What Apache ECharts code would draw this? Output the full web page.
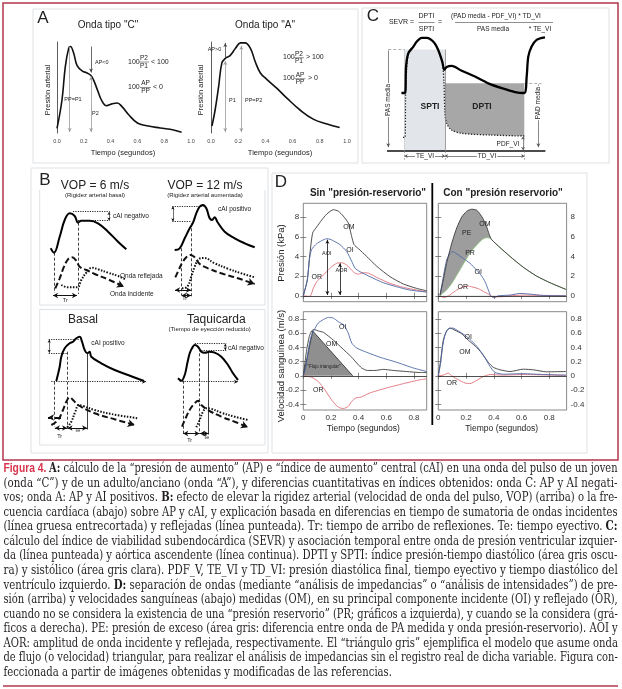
<!DOCTYPE html>
<html lang="es"><head><meta charset="utf-8"><title>Figura 4</title>
<script src="https://cdn.jsdelivr.net/npm/echarts@6.0.0/dist/echarts.min.js"></script>
<style>html,body{margin:0;padding:0;background:#fff;}#c{width:622px;height:689px;}</style>
</head><body><div id="c"></div>
<script>
// ================= DATA =================
// ---- Panel A ----
const aTimeTicks = [0, 0.2, 0.4, 0.6, 0.8, 1.0];
const ondaC_t = [0.0,0.037,0.062,0.087,0.10,0.124,0.15,0.19,0.224,0.26,0.30,0.336,0.37,0.41,0.45,0.485,0.535,0.6,0.67,0.77,0.87,0.93];
const ondaC_p = [5,36,73,93,95,88,74,68,66,62,48,35,30,32,33,29,20,11,8,5.5,3.3,0.8];
const ondaA_t = [0.007,0.03,0.056,0.08,0.105,0.14,0.18,0.216,0.25,0.29,0.326,0.363,0.41,0.485,0.56,0.657,0.755,0.853,0.946];
const ondaA_p = [7.7,25,51,77,82,85,93,99,99,93,78,66,59,49,38,25,15,10,6];

// ---- Panel C ----
const aorta_t = [0.09,0.1125,0.119,0.133,0.165,0.185,0.217,0.248,0.29,0.32,0.346,0.358,0.373,0.404,0.467,0.55,0.633,0.717,0.8,0.858,0.873,0.883,0.904,0.935,0.9875];
const aorta_p = [60,60,87,101,108,113,117,117,113,104.5,92,84,87,88,83,77,70,65,61,60,77,97.6,108,115,117.6];
const vi_t = [0.1,0.112,0.117,0.133,0.165,0.185,0.217,0.248,0.29,0.32,0.346,0.356,0.362,0.373,0.404,0.467,0.65,0.858];
const vi_p = [14,14,62,101,108,113,117,117,113,104.5,92,70,40,28.6,21.7,18.3,16.5,15.5];
const pasMedia = 105, padMedia = 70, pdfVI = 15;
const teVI = [0.11, 0.362], tdVI = [0.362, 0.858];

// ---- Panel B ----
const b1_main_x = [5.7,9,14.7,19.7,24.7,29.7,33,36.3,44.7,53,63,73,81.3];
const b1_main_y = [56.7,52.3,68.3,85,91.7,89,82.3,84.3,84.3,81.7,73.3,63.3,55.7];
const b1_inc_x = [10.3,14.7,19,23,27,31.3,34.7,41.3,49.7,63,79];
const b1_inc_y = [16.7,26.7,38.3,45.7,47.7,44.3,38.3,35,31,25.7,18.3];
const b1_ref_x = [16.3,23,32.3,36.3,41.3,47,53,63,73,80.3];
const b1_ref_y = [20,17.7,17.7,25,32.3,37.3,35.7,32.3,29,25.7];

const b2_main_x = [9.7,14.7,19.7,24.7,28,31.3,34.7,38,41.3,44.7,47,49.7,52.3,59.7,69.7,79.7,89.7];
const b2_main_y = [55,56.7,66.7,76.7,82.3,91.7,98.3,100,96.7,86.7,85,87.7,83.3,73.3,66.7,61.7,57.7];
const b2_inc_x = [10.3,13.7,17,21.3,25.7,29.7,34.7,43,56.3,73,89.7];
const b2_inc_y = [27.7,35,41.7,47.7,50,47.7,41,36.7,31.7,26.7,21];
const b2_ref_x = [17,22.3,26.3,29.7,33.7,39,49.7,63,76.3,89.7];
const b2_ref_y = [16.7,18.3,28.3,38.3,45.7,47,41.7,36.3,31.7,27.7];

const b3_main_x = [11.3,14.7,16.3,19.7,24.7,28,31.3,34.7,37,39.7,42.3,44.7,46.3,56.3,69.7,83,99];
const b3_main_y = [54,68.3,78.3,86.7,91.7,93.3,96.7,98.3,93.3,85,81.7,83.3,78.3,71.7,65,60,54];
const b3_inc_x = [6.3,13,18,21.3,24.7,28,33,49.7,69.7,89.7];
const b3_inc_y = [10,15,25,33.3,37.7,35,30,21.7,15.7,10];
const b3_ref_x = [22.3,26.3,30.3,33.7,38,49.7,66.3,93];
const b3_ref_y = [7.7,13.3,23.3,30,29,25,21,16.7];

const b4_main_x = [13,16.3,19.7,22.3,24.7,27,29.7,33,36.3,39.7,44.7,49.7,56.3,63,68,73];
const b4_main_y = [56.7,54.3,60,71.7,81.7,86.7,90,88.3,83.3,82.3,83.3,82.3,78.3,70,61.7,55];
const b4_inc_x = [17,21.3,25.7,29.7,33,36.3,43,56.3,69.7,83];
const b4_inc_y = [8.3,18.3,26.7,31.7,34.3,30,25,18.3,13.3,7.7];
const b4_ref_x = [31.3,34.7,38,41.3,45.7,56.3,69.7,83];
const b4_ref_y = [7.7,15,23.3,26.7,26.3,22.3,18.3,15];

// ---- Panel D ----
const dTimeTicks = [0, 0.2, 0.4, 0.6, 0.8];
const dPresTicks = [0, 2, 4, 6, 8];
const dVelTicks = [-0.4, -0.2, 0, 0.2, 0.4, 0.6, 0.8];
// sin presión-reservorio (presión)
const om1_t = [0,0.029,0.048,0.068,0.097,0.133,0.169,0.217,0.253,0.289,0.325,0.35,0.367,0.398,0.458,0.531,0.627,0.723,0.82,0.892];
const om1_p = [0,1.6,4.3,6.4,7.0,7.7,8.3,8.75,8.6,8.1,7.4,6.0,5.2,4.8,4.0,3.0,1.94,1.2,0.75,0.51];
const oi1_t = [0,0.029,0.044,0.06,0.097,0.133,0.169,0.193,0.229,0.265,0.314,0.35,0.374,0.41,0.482,0.578,0.675,0.771,0.892];
const oi1_p = [0,1.6,3.7,4.7,5.3,5.6,5.8,5.75,5.5,5.2,4.5,3.5,2.8,2.45,1.94,1.33,0.92,0.58,0.38];
const or1_t = [0,0.036,0.053,0.072,0.097,0.133,0.157,0.18,0.205,0.241,0.277,0.314,0.35,0.374,0.398,0.434,0.47,0.531,0.627,0.723,0.82,0.892];
const or1_p = [0,-0.05,0,0.75,1.43,1.94,2.3,2.6,2.96,3.3,3.37,3.13,2.6,2.3,2.2,2.35,2.3,1.87,1.26,0.86,0.58,0.41];
// con presión reservorio (presión)
const om2_t = [0.012,0.036,0.06,0.097,0.133,0.169,0.205,0.24,0.277,0.313,0.344,0.368,0.385,0.445,0.517,0.613,0.709,0.805,0.92];
const om2_p = [0.07,1.6,3.3,5.35,6.9,8.0,8.6,8.8,8.7,8.06,7.2,6.2,5.7,4.9,4.0,2.9,2.0,1.33,0.65];
const pr2_t = [0.012,0.036,0.06,0.097,0.133,0.169,0.205,0.24,0.277,0.313,0.344,0.368,0.385,0.445,0.517,0.613,0.709,0.805,0.92];
const pr2_p = [0,0.3,0.6,1.26,2.1,2.96,3.8,4.56,5.17,5.68,5.9,5.88,5.7,4.9,4.0,2.9,2.0,1.33,0.65];
const oi2_t = [0.012,0.036,0.06,0.084,0.103,0.133,0.18,0.229,0.277,0.313,0.337,0.361,0.378,0.402,0.433,0.517,0.589,0.661,0.757,0.92];
const oi2_p = [0,1.94,3.64,4.3,4.5,4.26,3.8,3.3,2.6,2.0,1.43,0.58,0,-0.2,0,0.07,0.24,0.17,0.03,0];
const or2_t = [0.012,0.041,0.072,0.097,0.133,0.169,0.21,0.24,0.289,0.325,0.361,0.392,0.445,0.517,0.613,0.92];
const or2_p = [0,-0.17,-0.03,0.24,0.58,0.85,0.99,0.92,0.72,0.45,0.17,-0.1,-0.1,0,0.07,0];
// sin presión-reservorio (velocidad)
const oi3_t = [0,0.02,0.036,0.053,0.077,0.108,0.145,0.181,0.217,0.253,0.294,0.325,0.35,0.386,0.458,0.555,0.675,0.795,0.892];
const oi3_v = [0,0.13,0.36,0.53,0.64,0.74,0.79,0.82,0.81,0.76,0.71,0.6,0.46,0.39,0.33,0.26,0.19,0.11,0.06];
const om3_t = [0,0.024,0.043,0.06,0.077,0.108,0.145,0.193,0.241,0.301,0.35,0.386,0.422,0.463,0.518,0.578,0.651,0.747,0.843,0.892];
const om3_v = [0,0.36,0.55,0.63,0.65,0.63,0.61,0.54,0.46,0.35,0.26,0.18,0.11,0.075,0.075,0.09,0.075,0.06,0.046,0.046];
const or3_t = [0,0.06,0.108,0.157,0.205,0.253,0.289,0.325,0.35,0.381,0.415,0.482,0.603,0.723,0.843,0.892];
const or3_v = [0,-0.02,-0.08,-0.2,-0.34,-0.44,-0.46,-0.43,-0.36,-0.31,-0.3,-0.24,-0.17,-0.11,-0.056,-0.042];
const tri_t = [0,0.068,0.357];
const tri_v = [0,0.63,0];
// con presión reservorio (velocidad)
const oi4_t = [0,0.017,0.031,0.048,0.072,0.104,0.144,0.192,0.24,0.288,0.337,0.373,0.409,0.469,0.613,0.757,0.92];
const oi4_v = [0,0.18,0.41,0.57,0.66,0.67,0.63,0.57,0.49,0.39,0.25,0.13,0.047,0.023,0.03,0.018,0.01];
const om4_t = [0,0.017,0.036,0.06,0.084,0.12,0.169,0.216,0.265,0.313,0.36,0.396,0.445,0.517,0.613,0.685,0.781,0.92];
const om4_v = [0,0.22,0.5,0.63,0.67,0.64,0.59,0.5,0.42,0.32,0.19,0.12,0.084,0.06,0.093,0.084,0.056,0.06];
const or4_t = [0,0.036,0.072,0.104,0.144,0.192,0.228,0.277,0.325,0.373,0.469,0.613,0.92];
const or4_v = [0,0.01,0.037,-0.01,-0.056,-0.1,-0.11,-0.065,-0.01,0.018,0.01,0.018,0.005];

// ---- Caption ----
const capLines = [
 [['r','Figura 4. '],['b','A:'],['n',' cálculo de la “presión de aumento” (AP) e “índice de aumento” central (cAI) en una onda del pulso de un joven']],
 [['n','(onda “C”) y de un adulto/anciano (onda “A”), y diferencias cuantitativas en índices obtenidos: onda C: AP y AI negati-']],
 [['n','vos; onda A: AP y AI positivos. '],['b','B:'],['n',' efecto de elevar la rigidez arterial (velocidad de onda del pulso, VOP) (arriba) o la fre-']],
 [['n','cuencia cardíaca (abajo) sobre AP y cAI, y explicación basada en diferencias en tiempo de sumatoria de ondas incidentes']],
 [['n','(línea gruesa entrecortada) y reflejadas (línea punteada). Tr: tiempo de arribo de reflexiones. Te: tiempo eyectivo. '],['b','C:']],
 [['n','cálculo del índice de viabilidad subendocárdica (SEVR) y asociación temporal entre onda de presión ventricular izquier-']],
 [['n','da (línea punteada) y aórtica ascendente (línea continua). DPTI y SPTI: índice presión-tiempo diastólico (área gris oscu-']],
 [['n','ra) y sistólico (área gris clara). PDF_V, TE_VI y TD_VI: presión diastólica final, tiempo eyectivo y tiempo diastólico del']],
 [['n','ventrículo izquierdo. '],['b','D:'],['n',' separación de ondas (mediante “análisis de impedancias” o “análisis de intensidades”) de pre-']],
 [['n','sión (arriba) y velocidades sanguíneas (abajo) medidas (OM), en su principal componente incidente (OI) y reflejado (OR),']],
 [['n','cuando no se considera la existencia de una “presión reservorio” (PR; gráficos a izquierda), y cuando se la considera (grá-']],
 [['n','ficos a derecha). PE: presión de exceso (área gris: diferencia entre onda de PA medida y onda presión-reservorio). AOI y']],
 [['n','AOR: amplitud de onda incidente y reflejada, respectivamente. El “triángulo gris” ejemplifica el modelo que asume onda']],
 [['n','de flujo (o velocidad) triangular, para realizar el análisis de impedancias sin el registro real de dicha variable. Figura con-']],
 [['n','feccionada a partir de imágenes obtenidas y modificadas de las referencias.']]
];

// ================= HELPERS =================
const FONT = '"Liberation Sans", Arial, sans-serif';
const zip = (xs, ys) => xs.map((x, i) => [x, ys[i]]);
function S(gi, xs, ys, ls, extra) {
  return Object.assign({type:'line', xAxisIndex:gi, yAxisIndex:gi, data:zip(xs, ys), symbol:'none', showSymbol:false,
    lineStyle:ls, silent:true, animation:false, clip:false, z:3}, extra || {});
}
function seg(a, b, o) {
  o = o || {};
  const ss = o.ss || [4, 5];
  const ls = {color:o.c || '#222', width:(o.w === undefined ? 0.8 : o.w), type:o.t || 'solid'};
  return [{coord:a, symbol:o.s0 || 'none', symbolSize:ss, lineStyle:ls, itemStyle:{color:o.c || '#222'}},
          {coord:b, symbol:o.s1 || 'none', symbolSize:ss, itemStyle:{color:o.c || '#222'}}];
}
function ML(items) {
  return {silent:true, animation:false, symbol:'none', label:{show:false}, emphasis:{disabled:true}, data:items};
}
const ZERO = {yAxis:0, lineStyle:{color:'#222', width:0.8, type:'solid'}, symbol:'none'};
const G = [];
function T(x, y, text, size, o) {
  o = o || {};
  const st = {text, fontSize:size, fontFamily:o.ff || FONT, fontWeight:o.bold ? 'bold' : 'normal', fill:o.color || '#222',
    align:o.align || 'center', textAlign:o.align || 'center', verticalAlign:'middle', textVerticalAlign:'middle'};
  if (o.bg) { st.backgroundColor = o.bg; st.padding = [0, 1]; }
  G.push({type:'text', x, y, rotation:o.rot ? o.rot * Math.PI / 180 : 0, style:st, z:100, silent:true});
}
function Ln(x1, y1, x2, y2, color, w) {
  G.push({type:'line', shape:{x1, y1, x2, y2}, style:{stroke:color, lineWidth:w}, z:90, silent:true});
}
function Rc(x, y, w, h, color, lw) {
  G.push({type:'rect', shape:{x, y, width:w, height:h}, style:{fill:'none', stroke:color, lineWidth:lw}, z:0, silent:true});
}
function Fr(xc, yn, yd, num, den, size, hw) {
  T(xc, yn, num, size); T(xc, yd, den, size); Ln(xc - hw, (yn + yd) / 2, xc + hw, (yn + yd) / 2, '#444', 0.6);
}

// ================= GRIDS & AXES =================
const grids = [
  {left:57, top:42, width:134, height:91},        // 0 A onda C
  {left:211, top:42, width:136, height:91},       // 1 A onda A
  {left:387, top:35, width:160, height:127.6},    // 2 C
  {left:45, top:200, width:110, height:105},      // 3 B VOP 6
  {left:165, top:200, width:110, height:105},     // 4 B VOP 12
  {left:45, top:330, width:110, height:105},      // 5 B basal
  {left:165, top:330, width:110, height:105},     // 6 B taquicardia
  {left:303.3, top:203.3, width:123.4, height:98.4, show:true, borderColor:'#6a6a6a', borderWidth:0.8, backgroundColor:'transparent'}, // 7
  {left:438.3, top:203.3, width:128.3, height:98.4, show:true, borderColor:'#6a6a6a', borderWidth:0.8, backgroundColor:'transparent'}, // 8
  {left:303.3, top:311.7, width:123.4, height:98.3, show:true, borderColor:'#6a6a6a', borderWidth:0.8, backgroundColor:'transparent'}, // 9
  {left:438.3, top:311.7, width:128.3, height:98.3, show:true, borderColor:'#6a6a6a', borderWidth:0.8, backgroundColor:'transparent'}  // 10
];
const xAxes = [], yAxes = [];
const hid = (gi, min, max) => ({gridIndex:gi, type:'value', min, max, show:false});
[0, 1].forEach(gi => {
  xAxes.push({gridIndex:gi, type:'value', min:0, max:1, axisLine:{show:false}, axisTick:{show:false}, splitLine:{show:false},
    axisLabel:{customValues:aTimeTicks, fontSize:5.5, color:'#444', margin:5, fontFamily:FONT, formatter:v => v.toFixed(1)}});
  yAxes.push({gridIndex:gi, type:'value', min:0, max:100, axisLine:{show:true, lineStyle:{color:'#333', width:0.8}},
    axisTick:{show:false}, axisLabel:{show:false}, splitLine:{show:false}});
});
xAxes.push(hid(2, 0, 1)); yAxes.push(hid(2, -12, 120));
[3, 4, 5, 6].forEach(gi => { xAxes.push(hid(gi, 0, 110)); yAxes.push(hid(gi, 0, 105)); });
function dAxis(gi, min, max, ticks, pos, labels) {
  return {gridIndex:gi, type:'value', min, max, position:pos, axisLine:{show:false}, splitLine:{show:false},
    axisTick:{show:true, inside:true, length:3, customValues:ticks, lineStyle:{color:'#555', width:0.7}},
    axisLabel:{show:labels, customValues:ticks, fontSize:8, color:'#333', margin:4, fontFamily:FONT}};
}
const dXmax = {7:0.892, 8:0.925, 9:0.892, 10:0.925};
const dY = {7:[-0.6, 9.4, dPresTicks], 8:[-0.6, 9.4, dPresTicks], 9:[-0.48, 0.9, dVelTicks], 10:[-0.48, 0.9, dVelTicks]};
[7, 8, 9, 10].forEach(gi => {
  xAxes.push(dAxis(gi, 0, dXmax[gi], dTimeTicks, 'bottom', gi >= 9));
  const right = (gi === 8 || gi === 10);
  yAxes.push(dAxis(gi, dY[gi][0], dY[gi][1], dY[gi][2], right ? 'right' : 'left', true));
});
[7, 8, 9, 10].forEach(gi => {
  xAxes.push(dAxis(gi, 0, dXmax[gi], dTimeTicks, 'top', false));
  const right = (gi === 8 || gi === 10);
  yAxes.push(dAxis(gi, dY[gi][0], dY[gi][1], dY[gi][2], right ? 'left' : 'right', false));
});

// ================= SERIES =================
const series = [];
const GRAY = '#9a9a9a';
// ---- A ----
series.push(S(0, ondaC_t, ondaC_p, {color:'#111', width:1.6}, {smooth:0.4, markLine:ML([
  seg([0.095, 95], [0.095, 1], {c:GRAY, s1:'arrow', ss:[3, 4]}),
  seg([0.254, 95], [0.254, 66.5], {c:'#444', s1:'arrow', ss:[3, 4]}),
  seg([0.254, 62], [0.254, 1], {c:GRAY, s0:'arrow', s1:'arrow', ss:[3, 4]})
])}));
series.push(S(1, ondaA_t, ondaA_p, {color:'#111', width:1.6}, {smooth:0.4, markLine:ML([
  seg([0.105, 83], [0.105, 99], {c:'#444', s1:'arrow', ss:[3, 4]}),
  seg([0.105, 79], [0.105, 1], {c:GRAY, s0:'arrow', s1:'arrow', ss:[3, 4]}),
  seg([0.223, 96], [0.223, 1], {c:GRAY, s0:'arrow', s1:'arrow', ss:[3, 4]})
])}));
// ---- C ----
series.push(S(2, teVI, [pasMedia, pasMedia], {width:0}, {areaStyle:{color:'#e2e5e9', opacity:1}, z:1}));
series.push(S(2, tdVI, [padMedia, padMedia], {width:0}, {areaStyle:{color:'#a7a7a7', opacity:1}, z:1}));
const viDiaIdx = vi_t.map((t, i) => i).filter(i => vi_t[i] >= tdVI[0]);
series.push(S(2, viDiaIdx.map(i => vi_t[i]), viDiaIdx.map(i => vi_p[i]), {width:0}, {smooth:0.3, areaStyle:{color:'#ffffff', opacity:1}, z:1}));
series.push(S(2, vi_t, vi_p, {color:'#222', width:1.3, type:[1.3, 1.6]}, {smooth:0.3, z:4, markLine:ML([
  seg([0, 0], [0.99, 0], {c:'#111', w:1.6}),
  seg([0.008, pasMedia], [teVI[0], pasMedia], {c:'#999', t:[3, 2]}),
  seg([teVI[0], pasMedia], [teVI[0], 0], {c:'#bbb', w:0.6}),
  seg([teVI[1], pasMedia], [teVI[1], 0], {c:'#888', w:0.8}),
  seg([tdVI[1], padMedia], [0.965, padMedia], {c:'#999', t:[3, 2]}),
  seg([0.008, pasMedia - 1], [0.008, 4], {c:'#555', w:0.7, s1:'arrow', ss:[3, 4]}),
  seg([0.946, padMedia - 1], [0.946, 4], {c:'#555', w:0.7, s1:'arrow', ss:[3, 4]}),
  seg([0.85, pdfVI], [0.85, 1], {c:'#555', w:0.7, s0:'arrow', s1:'arrow', ss:[3, 3]}),
  seg([teVI[0], -5.2], [teVI[1], -5.2], {c:'#555', w:0.7, s0:'arrow', s1:'arrow', ss:[3, 3]}),
  seg([tdVI[0], -5.2], [tdVI[1], -5.2], {c:'#555', w:0.7, s0:'arrow', s1:'arrow', ss:[3, 3]}),
  seg([teVI[0], 0], [teVI[0], -9], {c:'#777', w:0.6, t:[2, 1.5]}),
  seg([teVI[1], 0], [teVI[1], -9], {c:'#777', w:0.6, t:[2, 1.5]}),
  seg([tdVI[1], 0], [tdVI[1], -9], {c:'#777', w:0.6, t:[2, 1.5]})
])}));
series.push(S(2, aorta_t, aorta_p, {color:'#000', width:2.3}, {smooth:0.3, z:5}));
// ---- B ----
const INC = {color:'#111', width:2, type:[6, 3]};
const REF = {color:'#111', width:2, type:[1.5, 1.5]};
const DOT = {c:'#111', w:0.9, t:[1.2, 1.2]};
const DSH = {c:'#111', w:0.8, t:[3, 2]};
function bPanel(gi, mx, my, ix, iy, rx, ry, marks) {
  series.push(S(gi, ix, iy, INC, {smooth:0.4}));
  series.push(S(gi, rx, ry, REF, {smooth:0.4}));
  series.push(S(gi, mx, my, {color:'#000', width:2}, {smooth:0.4, markLine:ML(marks.concat([
    seg([ix[ix.length - 2], iy[iy.length - 2]], [ix[ix.length - 1], iy[iy.length - 1]], {c:'#111', w:0.01, s1:'arrow', ss:[6, 7]})
  ]))}));
}
const ARR2 = (a, b) => seg(a, b, {c:'#111', w:1, s0:'arrow', s1:'arrow', ss:[4, 5]});
bPanel(3, b1_main_x, b1_main_y, b1_inc_x, b1_inc_y, b1_ref_x, b1_ref_y, [
  seg([28, 93.3], [64.7, 93.3], DOT), seg([33, 84.3], [64.7, 84.3], DOT),
  seg([64, 93], [64, 84.6], {c:'#111', w:0.6, s0:'arrow', s1:'arrow', ss:[2.5, 3]}),
  seg([9.7, 52.3], [9.7, 12], DSH), seg([33, 82.3], [33, 11], DSH),
  ARR2([8, 9.5], [32, 9.5])
]);
bPanel(4, b2_main_x, b2_main_y, b2_inc_x, b2_inc_y, b2_ref_x, b2_ref_y, [
  seg([7.3, 99], [39.7, 99], DOT), seg([7.3, 83.3], [26.3, 83.3], DOT),
  seg([7.8, 98.5], [7.8, 83.8], {c:'#111', w:0.6, s0:'arrow', s1:'arrow', ss:[2.5, 3]}),
  seg([16.3, 56.7], [16.3, 10], DSH), seg([26.3, 81.7], [26.3, 8.3], DSH),
  ARR2([10, 15], [26, 15]), ARR2([16.5, 9.5], [26, 9.5])
]);
bPanel(5, b3_main_x, b3_main_y, b3_inc_x, b3_inc_y, b3_ref_x, b3_ref_y, [
  seg([6.3, 53.3], [101, 53.3], {c:'#111', w:0.9, t:[1.2, 1.2], s1:'arrow', ss:[3, 4]}),
  seg([3.7, 95.7], [34.7, 95.7], DOT), seg([3.7, 81.7], [22.3, 81.7], DOT),
  seg([4.2, 95.2], [4.2, 82.2], {c:'#111', w:0.6, s0:'arrow', s1:'arrow', ss:[2.5, 3]}),
  seg([9.7, 53.3], [9.7, 8], DSH), seg([22.3, 83.3], [22.3, 6.5], DSH),
  seg([42.3, 81.7], [42.3, 5.5], {c:'#111', w:0.8}),
  seg([16, 17.5], [3, 17.5], {c:'#111', w:2, t:[6, 3], s1:'arrow', ss:[5, 6]}),
  ARR2([9.9, 7], [22.1, 7]), ARR2([22.5, 7], [42.1, 7])
]);
bPanel(6, b4_main_x, b4_main_y, b4_inc_x, b4_inc_y, b4_ref_x, b4_ref_y, [
  seg([14.7, 53.3], [73, 53.3], {c:'#111', w:0.9, t:[1.2, 1.2], s1:'arrow', ss:[3, 4]}),
  seg([29.7, 91.7], [61.3, 91.7], DOT), seg([36.3, 84.3], [61.3, 84.3], DOT),
  seg([60.3, 91.2], [60.3, 84.8], {c:'#111', w:0.6, s0:'arrow', s1:'arrow', ss:[2.5, 3]}),
  seg([18, 54.3], [18, 1.5], DSH), seg([34.7, 86.7], [34.7, 1], DSH),
  seg([43.7, 82.3], [43.7, 0.5], {c:'#111', w:0.8}),
  ARR2([18.2, 1.5], [34.5, 1.5]), ARR2([34.9, 1.5], [43.5, 1.5])
]);
// ---- D ----
const COM = '#3a3a3a', COI = '#4d66a5', COR = '#e0717a', CPR = '#8cc47c';
// sin PR, presión
series.push(S(7, om1_t, om1_p, {color:COM, width:0.9}, {smooth:0.2, markLine:ML([ZERO])}));
series.push(S(7, or1_t, or1_p, {color:COR, width:0.9}, {smooth:0.2}));
series.push(S(7, oi1_t, oi1_p, {color:COI, width:0.9}, {smooth:0.2, markLine:ML([
  seg([0.174, 5.7], [0.174, 0.08], {c:'#111', w:0.8, s0:'arrow', s1:'arrow', ss:[3, 4]}),
  seg([0.265, 3.3], [0.265, 0.08], {c:'#111', w:0.8, s0:'arrow', s1:'arrow', ss:[3, 4]})
])}));
// con PR, presión
series.push(S(8, om2_t, om2_p, {width:0}, {smooth:0.2, areaStyle:{color:'#9d9d9d', opacity:1}, z:1}));
series.push(S(8, pr2_t, pr2_p, {width:0}, {smooth:0.2, areaStyle:{color:'#ffffff', opacity:1}, z:1}));
series.push(S(8, or2_t, or2_p, {color:COR, width:0.9}, {smooth:0.2, markLine:ML([ZERO])}));
series.push(S(8, oi2_t, oi2_p, {color:COI, width:0.9}, {smooth:0.2}));
series.push(S(8, pr2_t, pr2_p, {color:CPR, width:0.9}, {smooth:0.2}));
series.push(S(8, om2_t, om2_p, {color:COM, width:0.9}, {smooth:0.2}));
// sin PR, velocidad
series.push(S(9, tri_t, tri_v, {color:'#222', width:0.8}, {areaStyle:{color:'#8f8f8f', opacity:1}, z:1}));
series.push(S(9, or3_t, or3_v, {color:COR, width:0.9}, {smooth:0.2, markLine:ML([ZERO])}));
series.push(S(9, om3_t, om3_v, {color:COM, width:0.9}, {smooth:0.2}));
series.push(S(9, oi3_t, oi3_v, {color:COI, width:0.9}, {smooth:0.2}));
// con PR, velocidad
series.push(S(10, or4_t, or4_v, {color:COR, width:0.9}, {smooth:0.2, markLine:ML([ZERO])}));
series.push(S(10, om4_t, om4_v, {color:COM, width:0.9}, {smooth:0.2}));
series.push(S(10, oi4_t, oi4_v, {color:COI, width:0.9}, {smooth:0.2}));

// ================= GRAPHIC (frames, texts) =================
const RED = '#b3364d';
Rc(3, 3, 615, 457, RED, 1.5);
Ln(3, 686, 618, 686, RED, 1.5);
// A
Rc(33, 9, 325, 154, '#d5d9de', 0.8);
T(43, 18.5, 'A', 17);
T(108, 25, 'Onda tipo "C"', 10);
T(265, 25, 'Onda tipo "A"', 10);
T(48, 90, 'Presión arterial', 7.5, {rot:90});
T(201, 90, 'Presión arterial', 7.5, {rot:90});
T(123, 153, 'Tiempo (segundos)', 7.5);
T(280, 153, 'Tiempo (segundos)', 7.5);
T(73, 99, 'PP=P1', 5.5);
T(95, 62, 'AP<0', 5.5, {align:'left'});
T(92, 113, 'P2', 5.5, {align:'left'});
T(214.5, 49, 'AP>0', 5.5);
T(229, 100, 'P1', 5.5, {align:'left'});
T(245, 100, 'PP=P2', 5.5, {align:'left'});
T(128, 62, '100', 7, {align:'left'}); Fr(144, 58, 66, 'P2', 'P1', 6.5, 5); T(151, 62, '< 100', 7, {align:'left'});
T(128, 87.5, '100', 7, {align:'left'}); Fr(145.5, 83.5, 91.5, 'AP', 'PP', 6.5, 5.5); T(153, 87.5, '< 0', 7, {align:'left'});
T(283, 57.5, '100', 7, {align:'left'}); Fr(299, 54, 61.5, 'P2', 'P1', 6.5, 5); T(306, 57.5, '> 100', 7, {align:'left'});
T(283, 78.5, '100', 7, {align:'left'}); Fr(300, 75, 82.5, 'AP', 'PP', 6.5, 5.5); T(308, 78.5, '> 0', 7, {align:'left'});
// C
Rc(362, 8, 247, 155, '#d5d9de', 0.8);
T(373, 16, 'C', 17);
T(414, 22.5, 'SEVR =', 7, {align:'right'});
Fr(426.5, 16, 29, 'DPTI', 'SPTI', 7, 8);
T(440, 22.5, '=', 7);
T(496, 16, '(PAD media - PDF_VI) * TD_VI', 6.5);
T(493, 29, 'PAS media', 6.5);
T(540, 29, '* TE_VI', 6.5);
Ln(455, 22.5, 553, 22.5, '#444', 0.6);
T(430, 107, 'SPTI', 8.5, {bold:true});
T(482, 107, 'DPTI', 8.5, {bold:true});
T(388, 100, 'PAS media', 6.5, {rot:90, bg:'#fff'});
T(538, 103, 'PAD media', 6.5, {rot:90, bg:'#fff'});
T(508, 144, 'PDF_VI', 6.5);
T(425, 156, 'TE_VI', 6.5, {bg:'#fff'});
T(487, 156, 'TD_VI', 6.5, {bg:'#fff'});
// B
Rc(31, 168, 237, 285, '#d5d9de', 0.8);
Ln(39.7, 190, 39.7, 305, '#d5d9de', 0.8); Ln(39.7, 305, 265, 305, '#d5d9de', 0.8); Ln(265, 190, 265, 305, '#d5d9de', 0.8);
Rc(39.7, 309.5, 225.3, 135.5, '#d5d9de', 0.8);
T(45, 180, 'B', 17);
T(95, 186, 'VOP = 6 m/s', 12);
T(95, 195.5, '(Rigidez arterial basal)', 6);
T(205, 186, 'VOP = 12 m/s', 12);
T(205, 195.5, '(Rigidez arterial aumentada)', 6);
T(113, 216.7, 'cAI negativo', 6.5, {align:'left'});
T(218, 209.3, 'cAI positivo', 6.5, {align:'left'});
T(120, 276, 'Onda reflejada', 6.5, {align:'left'});
T(110, 294, 'Onda incidente', 6.5, {align:'left'});
T(65.3, 300.7, 'Tr', 5.5);
T(184.7, 298, 'Tr', 5.5);
T(83, 319.3, 'Basal', 12);
T(216.3, 319.3, 'Taquicarda', 12);
T(209.7, 329, '(Tiempo de eyección reducido)', 6);
T(91.3, 343.3, 'cAI positivo', 6.5, {align:'left'});
T(228, 348.3, 'cAI negativo', 6.5, {align:'left'});
T(59.7, 436.7, 'Tr', 5.5);
T(77.3, 430.7, 'Te', 5.5);
T(189.7, 440, 'Tr', 5.5);
T(206.3, 437.3, 'Te', 5.5);
// D
Rc(272, 173, 315, 280, '#d5d9de', 0.8);
T(281, 182, 'D', 17);
T(368, 193.3, 'Sin "presión-reservorio"', 10, {bold:true});
T(503, 193.3, 'Con "presión reservorio"', 10, {bold:true});
Ln(432.3, 183, 432.3, 425, '#000', 1.8);
T(281, 253, 'Presión (kPa)', 9.5, {rot:90});
T(281, 366, 'Velocidad sanguínea (m/s)', 9.5, {rot:90});
T(363.3, 428.5, 'Tiempo (segundos)', 8.5);
T(501.7, 428.5, 'Tiempo (segundos)', 8.5);
T(349, 226.7, 'OM', 7); T(350, 250, 'OI', 7); T(316.7, 276.7, 'OR', 7);
T(326.7, 253.3, 'AOI', 5.5); T(341.5, 270, 'AOR', 5.5);
T(466.7, 233.3, 'PE', 7); T(485, 224, 'OM', 7); T(470, 252.7, 'PR', 7); T(478.3, 271.7, 'OI', 7); T(462.7, 287.3, 'OR', 7);
T(342.7, 326.7, 'OI', 7); T(331.7, 344.3, 'OM', 7); T(318.3, 390, 'OR', 7);
T(324, 366.7, '"Flujo triangular"', 4.5);
T(468.3, 337.3, 'OI', 7); T(465, 351.7, 'OM', 7); T(451.7, 382.7, 'OR', 7);

// Caption (each line justified by horizontal scaling)
const CAP_FS = 12, CAP_X = 3.5, CAP_W = 614, CAP_Y0 = 469, CAP_LH = 14.55;
const CAP_SERIF = '"DejaVu Serif", "Liberation Serif", serif';
const capSt = {
  n:{fontFamily:CAP_SERIF, fontWeight:'normal', fill:'#231f20', fontSize:CAP_FS},
  b:{fontFamily:CAP_SERIF, fontWeight:'bold', fill:'#231f20', fontSize:CAP_FS},
  r:{fontFamily:'"Liberation Sans", sans-serif', fontWeight:'bold', fill:'#d8344e', fontSize:CAP_FS + 0.5}
};
const cv = document.createElement('canvas').getContext('2d');
function capWidth(segs) {
  let w = 0;
  segs.forEach(([k, s]) => { const st = capSt[k]; cv.font = st.fontWeight + ' ' + st.fontSize + 'px ' + st.fontFamily; w += cv.measureText(s).width; });
  return w;
}
const capScales = capLines.map(segs => Math.min(1.1, Math.max(0.6, CAP_W / capWidth(segs))));
const avgScale = capScales.slice(0, -1).reduce((a, b) => a + b, 0) / (capScales.length - 1);
capLines.forEach((segs, i) => {
  const sx = i === capLines.length - 1 ? avgScale : capScales[i];
  G.push({type:'text', x:CAP_X, y:CAP_Y0 + i * CAP_LH, scaleX:sx, z:100, silent:true,
    style:{text:segs.map(([k, s]) => '{' + k + '|' + s + '}').join(''), rich:capSt, fontSize:CAP_FS,
      fontFamily:CAP_SERIF, fill:'#231f20', align:'left', textAlign:'left', verticalAlign:'middle', textVerticalAlign:'middle'}});
});

// ================= RENDER =================
const chart = echarts.init(document.getElementById('c'), null, {renderer:'canvas'});
chart.setOption({
  animation:false,
  backgroundColor:'#ffffff',
  grid:grids,
  xAxis:xAxes,
  yAxis:yAxes,
  series:series,
  graphic:{elements:G}
});
</script>
</body></html>
